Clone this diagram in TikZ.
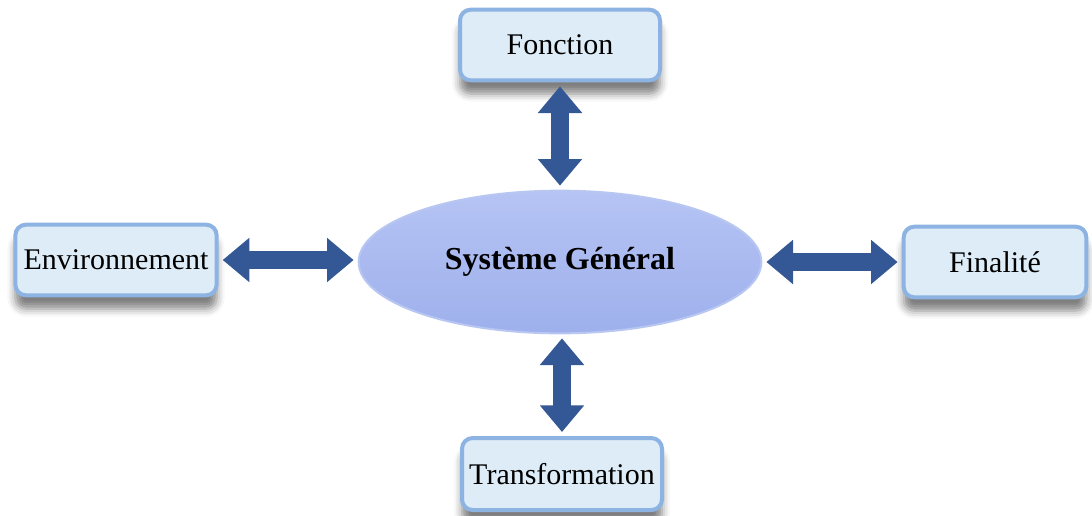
\documentclass[tikz,border=0pt]{standalone}
\usepackage{fontspec}
\setmainfont{Liberation Serif}
\usetikzlibrary{arrows.meta,shapes.geometric,shadows.blur}

\begin{document}
\begin{tikzpicture}[x=0.75pt,y=0.75pt,yscale=-1,xscale=1,
  box/.style={draw={rgb, 255:red, 141; green, 179; blue, 226 },line width=3pt,
    fill={rgb, 255:red, 221; green, 236; blue, 247 },rounded corners=8pt,
    minimum width=150pt,minimum height=53pt,inner sep=0pt,font=\fontsize{22.5}{26}\selectfont,
    blur shadow={shadow xshift=0pt,shadow yshift=-10pt,shadow blur radius=6pt,shadow opacity=50}},
  dblarrow/.style={line width=13pt,draw={rgb, 255:red, 52; green, 88; blue, 150 },
    {Triangle[width=32pt,length=20pt]}-{Triangle[width=32pt,length=20pt]},
    shorten <=3pt,shorten >=3pt}
]
\useasboundingbox (0,0) rectangle (1092,515);

%Shape: Ellipse [id:sysgen]
\node [ellipse,draw={rgb, 255:red, 184; green, 198; blue, 242 },line width=1.5pt,
  top color={rgb, 255:red, 182; green, 196; blue, 244 },bottom color={rgb, 255:red, 158; green, 176; blue, 236 },
  minimum width=302pt,minimum height=107pt,font=\fontsize{24}{28}\selectfont\bfseries] (sys) at (560,262) {Système Général};

%Shape: Rectangle [id:fonction]
\node [box] (fonc) at (560,45) {Fonction};
%Shape: Rectangle [id:environnement]
\node [box,minimum width=151pt] (env) at (116,260) {Environnement};
%Shape: Rectangle [id:finalite]
\node [box,minimum width=137pt] (fin) at (995,262) {Finalité};
%Shape: Rectangle [id:transformation]
\node [box,minimum height=54pt] (trans) at (562,474) {Transformation};

%Straight Lines [id:arrows]
\draw [dblarrow] (fonc.south) -- (fonc.south |- sys.north);
\draw [dblarrow] (env.east) -- (sys.west |- env.east);
\draw [dblarrow] (sys.east) -- (fin.west |- sys.east);
\draw [dblarrow] (sys.south -| trans.north) -- (trans.north);

\end{tikzpicture}
\end{document}
